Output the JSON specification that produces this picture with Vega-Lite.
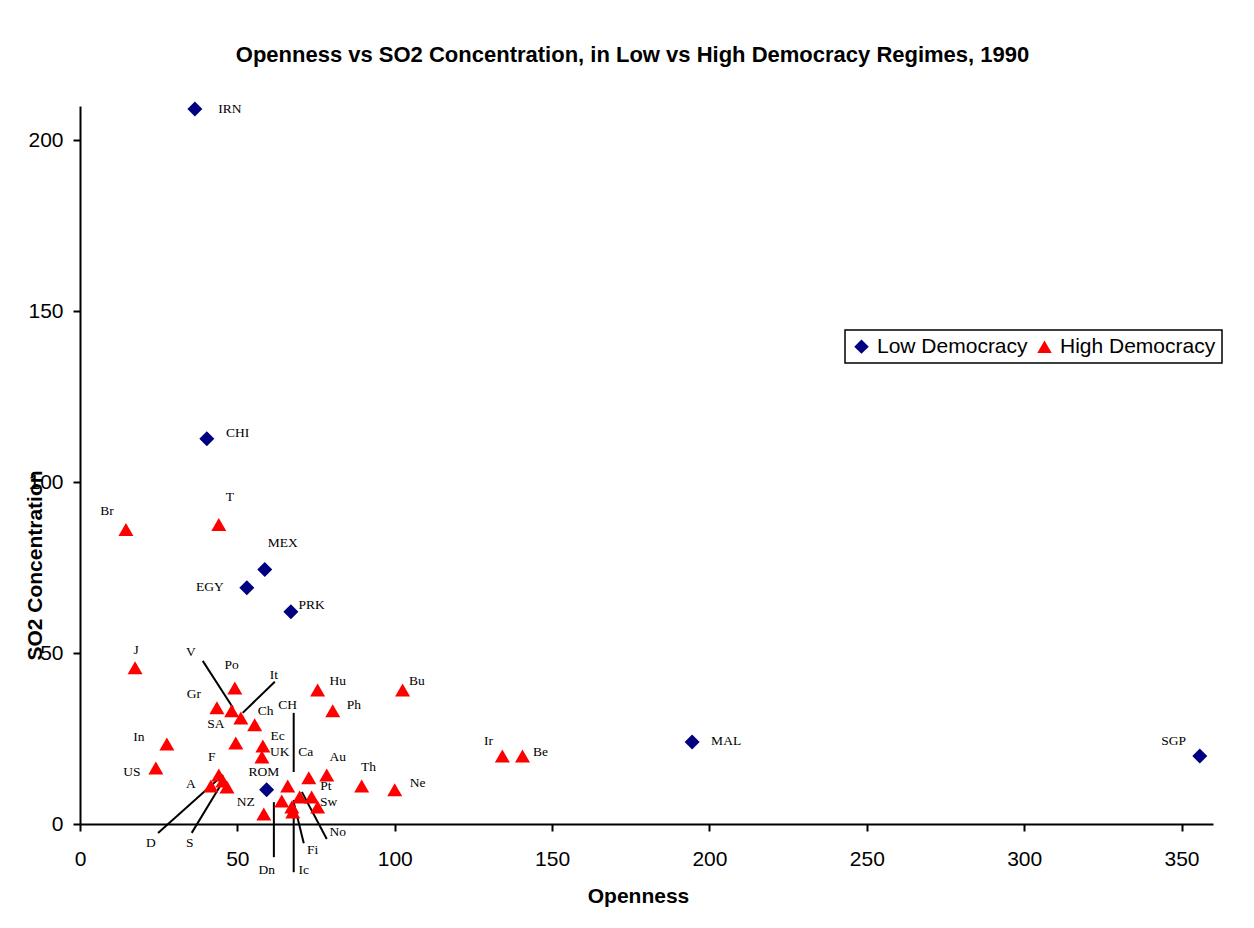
{
  "$schema": "https://vega.github.io/schema/vega-lite/v6.json",
  "width": 1133,
  "height": 718,
  "autosize": {"type": "none"},
  "padding": {"left": 80, "top": 106, "right": 41, "bottom": 104},
  "background": "white",
  "title": {
    "text": "Openness vs SO2 Concentration, in Low vs High Democracy Regimes, 1990",
    "anchor": "middle",
    "dx": -14,
    "offset": 35,
    "font": "Liberation Sans",
    "fontSize": 22,
    "fontWeight": "bold",
    "color": "black"
  },
  "datasets": {
    "pts": [
      {"code": "IRN", "group": "Low Democracy", "openness": 36.5, "so2": 209.1, "lx": 47.6, "ly": 209.1},
      {"code": "CHI", "group": "Low Democracy", "openness": 40.3, "so2": 112.7, "lx": 50.1, "ly": 114.5},
      {"code": "MEX", "group": "Low Democracy", "openness": 58.7, "so2": 74.4, "lx": 64.4, "ly": 82.3},
      {"code": "EGY", "group": "Low Democracy", "openness": 53.0, "so2": 69.1, "lx": 41.3, "ly": 69.4},
      {"code": "PRK", "group": "Low Democracy", "openness": 67.0, "so2": 62.1, "lx": 73.6, "ly": 64.1},
      {"code": "ROM", "group": "Low Democracy", "openness": 59.3, "so2": 10.0, "lx": 58.4, "ly": 15.2},
      {"code": "MAL", "group": "Low Democracy", "openness": 194.5, "so2": 24.0, "lx": 205.3, "ly": 24.3},
      {"code": "SGP", "group": "Low Democracy", "openness": 355.8, "so2": 19.9, "lx": 347.5, "ly": 24.3},
      {"code": "Br", "group": "High Democracy", "openness": 14.6, "so2": 86.1, "lx": 8.6, "ly": 91.4},
      {"code": "T", "group": "High Democracy", "openness": 44.1, "so2": 87.6, "lx": 47.6, "ly": 95.5},
      {"code": "J", "group": "High Democracy", "openness": 17.5, "so2": 45.7, "lx": 17.8, "ly": 51.0},
      {"code": "Po", "group": "High Democracy", "openness": 49.2, "so2": 39.8, "lx": 48.2, "ly": 46.6},
      {"code": "Gr", "group": "High Democracy", "openness": 43.5, "so2": 34.0, "lx": 36.2, "ly": 38.1},
      {"code": "V", "group": "High Democracy", "openness": 48.2, "so2": 33.1, "lx": 35.2, "ly": 50.4},
      {"code": "It", "group": "High Democracy", "openness": 51.1, "so2": 31.0, "lx": 61.6, "ly": 43.6},
      {"code": "Ch", "group": "High Democracy", "openness": 55.5, "so2": 29.0, "lx": 59.0, "ly": 33.1},
      {"code": "SA", "group": "High Democracy", "openness": 49.5, "so2": 23.7, "lx": 43.2, "ly": 29.3},
      {"code": "Hu", "group": "High Democracy", "openness": 75.5, "so2": 39.2, "lx": 81.9, "ly": 41.9},
      {"code": "Ph", "group": "High Democracy", "openness": 80.3, "so2": 33.1, "lx": 87.0, "ly": 34.8},
      {"code": "Bu", "group": "High Democracy", "openness": 102.5, "so2": 39.2, "lx": 107.0, "ly": 41.9},
      {"code": "In", "group": "High Democracy", "openness": 27.6, "so2": 23.4, "lx": 18.7, "ly": 25.5},
      {"code": "Ec", "group": "High Democracy", "openness": 58.1, "so2": 22.8, "lx": 62.8, "ly": 25.8},
      {"code": "UK", "group": "High Democracy", "openness": 57.8, "so2": 19.6, "lx": 63.5, "ly": 21.1},
      {"code": "US", "group": "High Democracy", "openness": 24.1, "so2": 16.4, "lx": 16.5, "ly": 15.2},
      {"code": "F", "group": "High Democracy", "openness": 44.1, "so2": 14.3, "lx": 41.9, "ly": 19.6},
      {"code": "A", "group": "High Democracy", "openness": 41.6, "so2": 11.1, "lx": 35.2, "ly": 11.7},
      {"code": "D", "group": "High Democracy", "openness": 45.4, "so2": 12.6, "lx": 22.5, "ly": -5.6},
      {"code": "S", "group": "High Democracy", "openness": 46.7, "so2": 10.8, "lx": 34.9, "ly": -5.6},
      {"code": "CH", "group": "High Democracy", "openness": 66.0, "so2": 11.1, "lx": 66.0, "ly": 34.8},
      {"code": "Ca", "group": "High Democracy", "openness": 72.7, "so2": 13.5, "lx": 71.7, "ly": 21.1},
      {"code": "Au", "group": "High Democracy", "openness": 78.4, "so2": 14.3, "lx": 81.9, "ly": 19.6},
      {"code": "Th", "group": "High Democracy", "openness": 89.5, "so2": 11.1, "lx": 91.7, "ly": 16.7},
      {"code": "Ne", "group": "High Democracy", "openness": 100.0, "so2": 10.0, "lx": 107.3, "ly": 12.0},
      {"code": "Ir", "group": "High Democracy", "openness": 134.2, "so2": 19.9, "lx": 129.8, "ly": 24.3},
      {"code": "Be", "group": "High Democracy", "openness": 140.6, "so2": 19.9, "lx": 146.3, "ly": 21.1},
      {"code": "NZ", "group": "High Democracy", "openness": 64.1, "so2": 6.7, "lx": 52.7, "ly": 6.4},
      {"code": "No", "group": "High Democracy", "openness": 69.8, "so2": 7.9, "lx": 81.9, "ly": -2.3},
      {"code": "Pt", "group": "High Democracy", "openness": 73.6, "so2": 7.9, "lx": 78.1, "ly": 11.1},
      {"code": "Sw", "group": "High Democracy", "openness": 75.5, "so2": 5.0, "lx": 79.0, "ly": 6.4},
      {"code": "Fi", "group": "High Democracy", "openness": 67.3, "so2": 5.0, "lx": 73.9, "ly": -7.6},
      {"code": "Ic", "group": "High Democracy", "openness": 67.6, "so2": 3.5, "lx": 71.1, "ly": -13.5},
      {"code": "Dn", "group": "High Democracy", "openness": 58.4, "so2": 2.9, "lx": 59.3, "ly": -13.5}
    ],
    "leaders": [
      {"code": "V", "x1": 39.0, "y1": 47.7, "x2": 48.6, "y2": 34.0},
      {"code": "It", "x1": 61.9, "y1": 41.6, "x2": 51.7, "y2": 32.5},
      {"code": "CH", "x1": 67.9, "y1": 32.5, "x2": 67.9, "y2": 15.2},
      {"code": "D", "x1": 24.8, "y1": -2.6, "x2": 45.4, "y2": 14.3},
      {"code": "S", "x1": 35.5, "y1": -2.6, "x2": 45.1, "y2": 12.0},
      {"code": "Dn", "x1": 61.6, "y1": 6.4, "x2": 61.6, "y2": -9.7},
      {"code": "Ic", "x1": 67.9, "y1": 7.0, "x2": 67.9, "y2": -14.1},
      {"code": "Fi", "x1": 67.9, "y1": 6.4, "x2": 71.1, "y2": -5.6},
      {"code": "No", "x1": 70.5, "y1": 9.4, "x2": 78.4, "y2": -4.4}
    ]
  },
  "layer": [
    {
      "data": {"name": "leaders"},
      "mark": {"type": "rule", "color": "black", "strokeWidth": 2},
      "encoding": {
        "x": {"field": "x1", "type": "quantitative", "scale": {"domain": [0, 360]}},
        "y": {"field": "y1", "type": "quantitative", "scale": {"domain": [0, 210]}},
        "x2": {"field": "x2"},
        "y2": {"field": "y2"}
      }
    },
    {
      "data": {"name": "pts"},
      "mark": {"type": "point", "filled": true, "opacity": 1, "size": 225},
      "encoding": {
        "x": {
          "field": "openness", "type": "quantitative", "title": "Openness",
          "scale": {"domain": [0, 360], "nice": false, "zero": true},
          "axis": {"values": [0, 50, 100, 150, 200, 250, 300, 350], "titleY": 61, "titleX": 558, "titleAlign": "center"}
        },
        "y": {
          "field": "so2", "type": "quantitative", "title": "SO2 Concentration",
          "scale": {"domain": [0, 210], "nice": false},
          "axis": {"values": [0, 50, 100, 150, 200], "titleX": -45, "titleY": 459, "titleBaseline": "middle", "titleAlign": "center"}
        },
        "color": {
          "field": "group", "type": "nominal", "title": null,
          "scale": {"domain": ["Low Democracy", "High Democracy"], "range": ["#000080", "#ff0000"]}
        },
        "shape": {
          "field": "group", "type": "nominal", "title": null,
          "scale": {"domain": ["Low Democracy", "High Democracy"], "range": ["diamond", "triangle-up"]}
        }
      }
    },
    {
      "data": {"name": "pts"},
      "mark": {"type": "text", "font": "Liberation Serif", "fontSize": 13.5, "color": "black", "align": "center", "baseline": "middle"},
      "encoding": {
        "x": {"field": "lx", "type": "quantitative"},
        "y": {"field": "ly", "type": "quantitative"},
        "text": {"field": "code"}
      }
    }
  ],
  "config": {
    "view": {"stroke": null},
    "axis": {
      "grid": false,
      "labelFlush": false,
      "domainColor": "black",
      "domainWidth": 2,
      "tickColor": "black",
      "tickWidth": 2,
      "tickSize": 7,
      "labelFont": "Liberation Sans",
      "labelFontSize": 21,
      "labelColor": "black",
      "titleFont": "Liberation Sans",
      "titleFontSize": 21,
      "titleFontWeight": "bold",
      "titleColor": "black"
    },
    "axisX": {"labelPadding": 17},
    "axisY": {"labelPadding": 10},
    "legend": {
      "orient": "none",
      "legendX": 765,
      "legendY": 224,
      "direction": "horizontal",
      "strokeColor": "black",
      "strokeWidth": 1.5,
      "padding": 6,
      "labelFont": "Liberation Sans",
      "labelFontSize": 21,
      "labelColor": "black",
      "symbolSize": 210,
      "symbolOpacity": 1,
      "columnPadding": 6,
      "labelOffset": 5,
      "fillColor": "white"
    }
  }
}
